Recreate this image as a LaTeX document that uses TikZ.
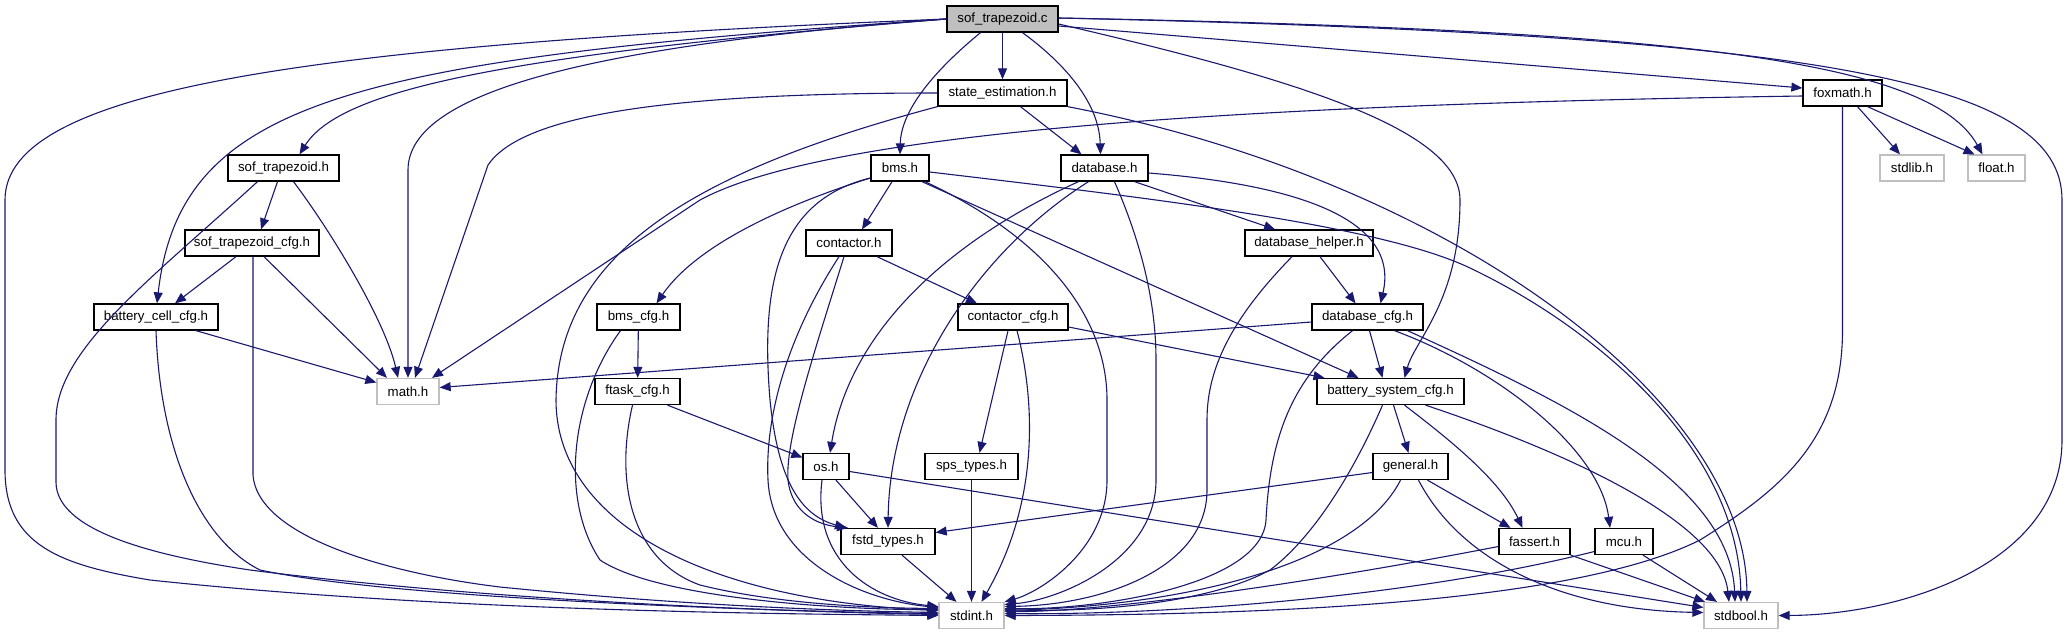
\documentclass[tikz,border=0pt]{standalone}
\usepackage{fontspec}
\setmainfont{Liberation Sans}
\usetikzlibrary{arrows.meta}
\definecolor{edgeblue}{HTML}{191970}
\definecolor{boxgray}{HTML}{BFBFBF}
\newcommand\nodefont{\fontsize{13.3}{16}\selectfont}
\tikzset{
  nd/.style={draw=black, line width=1.3pt, fill=white, inner sep=0pt, minimum height=26pt, font=\nodefont},
  sysnd/.style={nd, draw=boxgray},
  rootnd/.style={nd, fill=boxgray},
  e/.style={draw=edgeblue, line width=1.1pt, -{Triangle[length=11pt,width=9pt]}},
}
\begin{document}
\begin{tikzpicture}[x=1pt,y=-1pt]
\useasboundingbox[fill=white] (0,0) rectangle (2069,635);
% nodes
\node[rootnd, minimum width=111pt] (c) at (1002.5,19) {sof\_trapezoid.c};
\node[nd, minimum width=129pt] (se) at (1002.5,93) {state\_estimation.h};
\node[nd, minimum width=79pt] (fox) at (1842.5,93) {foxmath.h};
\node[nd, minimum width=111pt] (sth) at (283.5,168) {sof\_trapezoid.h};
\node[nd, minimum width=58pt] (bms) at (900,168) {bms.h};
\node[nd, minimum width=87pt] (db) at (1104.5,168) {database.h};
\node[sysnd, minimum width=64pt] (stdlib) at (1912,168) {stdlib.h};
\node[sysnd, minimum width=57pt] (flt) at (1996.5,168) {float.h};
\node[nd, minimum width=134pt] (stcfg) at (252,243) {sof\_trapezoid\_cfg.h};
\node[nd, minimum width=86pt] (cont) at (849,243) {contactor.h};
\node[nd, minimum width=128pt] (dbh) at (1309,243) {database\_helper.h};
\node[nd, minimum width=124pt] (bcc) at (156,317) {battery\_cell\_cfg.h};
\node[nd, minimum width=83pt] (bmscfg) at (638.5,317) {bms\_cfg.h};
\node[nd, minimum width=110pt] (ccfg) at (1013,317) {contactor\_cfg.h};
\node[nd, minimum width=111pt] (dbcfg) at (1367.5,317) {database\_cfg.h};
\node[sysnd, minimum width=62pt] (math) at (408,391.5) {math.h};
\node[nd, minimum width=85pt] (ftask) at (637.5,391.5) {ftask\_cfg.h};
\node[nd, minimum width=147pt] (bsc) at (1390.5,391.5) {battery\_system\_cfg.h};
\node[nd, minimum width=46pt] (os) at (826,466.5) {os.h};
\node[nd, minimum width=93pt] (sps) at (971.5,466.5) {sps\_types.h};
\node[nd, minimum width=75pt] (gen) at (1410.5,466.5) {general.h};
\node[nd, minimum width=94pt] (fstd) at (888,541.5) {fstd\_types.h};
\node[nd, minimum width=71pt] (fas) at (1534.5,541.5) {fassert.h};
\node[nd, minimum width=58pt] (mcu) at (1624,541.5) {mcu.h};
\node[sysnd, minimum width=65pt] (stdint) at (971.5,615.5) {stdint.h};
\node[sysnd, minimum width=74pt] (stdbool) at (1741,615.5) {stdbool.h};

% sof_trapezoid.c
\draw[e] (c.west) .. controls (300,45) and (5,90) .. (5,200) -- (5,470) .. controls (5,545) and (60,565) .. (150,580) .. controls (450,612) and (800,614) .. (stdint.west);
\draw[e] (c.west) .. controls (350,60) and (180,100) .. ([xshift=1pt]bcc.north);
\draw[e] (c.west) .. controls (500,55) and (340,90) .. ([xshift=16pt]sth.north);
\draw[e] (c.west) .. controls (600,45) and (408,90) .. (408,170) -- (math.north);
\draw[e] ([xshift=-22pt]c.south) .. controls (935,70) and (901,110) .. (bms.north);
\draw[e] (c) -- (se);
\draw[e] ([xshift=20pt]c.south) .. controls (1060,60) and (1099,100) .. ([xshift=-4pt]db.north);
\draw[e] ([yshift=-5pt]c.east) .. controls (1300,80) and (1460,130) .. (1460,200) .. controls (1460,300) and (1415,340) .. ([xshift=14pt]bsc.north);
\draw[e] ([yshift=-7pt]c.east) -- ([yshift=5pt]fox.west);
\draw[e] ([yshift=1pt]c.east) .. controls (1680,30) and (1930,60) .. ([xshift=-14pt]flt.north);
\draw[e] ([yshift=1pt]c.east) .. controls (1820,35) and (2062,80) .. (2062,200) -- (2062,440) .. controls (2062,565) and (1900,615) .. (stdbool.east);
% state_estimation.h
\draw[e] (se.west) .. controls (650,93) and (520,118) .. (488,165) -- ([xshift=7pt]math.north);
\draw[e] (se.south west) .. controls (700,170) and (558,250) .. (556,400) .. controls (556,520) and (700,600) .. ([yshift=5pt]stdint.west);
\draw[e] ([xshift=18pt]se.south) -- ([xshift=-23pt]db.north);
\draw[e] (se.south east) .. controls (1450,180) and (1745,400) .. ([xshift=6pt]stdbool.north);
% foxmath.h
\draw[e] ([yshift=-3pt]fox.west) .. controls (1200,105) and (820,135) .. (700,200) -- ([xshift=24pt]math.north);
\draw[e] ([xshift=15pt]fox.south) -- ([xshift=-12pt]stdlib.north);
\draw[e] ([xshift=25pt]fox.south) -- ([xshift=-22pt]flt.north);
\draw[e] (fox.south) -- (1842.5,330) .. controls (1842.5,440) and (1780,490) .. (1700,540) .. controls (1580,600) and (1300,615) .. (stdint.east);
% sof_trapezoid.h
\draw[e] ([xshift=-6pt]sth.south) -- ([xshift=9pt]stcfg.north);
\draw[e] ([xshift=10pt]sth.south) .. controls (330,230) and (385,320) .. ([xshift=-10pt]math.north);
\draw[e] ([xshift=-26pt]sth.south) .. controls (150,280) and (56,350) .. (56,420) -- (56,482) .. controls (56,530) and (150,555) .. (250,570) .. controls (500,602) and (800,612) .. ([yshift=1pt]stdint.west);
% sof_trapezoid_cfg.h
\draw[e] ([xshift=-16pt]stcfg.south) -- ([xshift=19pt]bcc.north);
\draw[e] ([xshift=12pt]stcfg.south) -- ([xshift=-21pt]math.north);
\draw[e] ([xshift=1pt]stcfg.south) -- (253,475) .. controls (258,540) and (400,575) .. (500,587) .. controls (700,607) and (850,611) .. ([yshift=3pt]stdint.west);
% battery_cell_cfg.h
\draw[e] ([xshift=40pt]bcc.south) -- ([yshift=9pt]math.west);
\draw[e] (bcc.south) .. controls (160,450) and (200,540) .. (260,570) .. controls (400,600) and (800,612) .. ([yshift=2pt]stdint.west);
% bms.h
\draw[e] ([xshift=-8pt]bms.south) -- ([xshift=13pt]cont.north);
\draw[e] ([yshift=-10pt]bms.west) .. controls (800,200) and (700,240) .. ([xshift=18pt]bmscfg.north);
\draw[e] ([yshift=-10pt]bms.west) .. controls (780,200) and (760,280) .. (770,400) .. controls (778,480) and (800,515) .. ([xshift=-42pt]fstd.north);
\draw[e] ([xshift=25pt]bms.south) .. controls (1050,240) and (1107,320) .. (1107,400) -- (1107,480) .. controls (1107,550) and (1040,592) .. (stdint.north east);
\draw[e] ([xshift=22pt]bms.south) -- ([xshift=-32pt]bsc.north);
\draw[e] ([yshift=-4pt]bms.east) .. controls (1150,198) and (1380,225) .. (1470,268) .. controls (1600,330) and (1738,450) .. (stdbool.north);
% database.h
\draw[e] ([xshift=-26pt]db.south) .. controls (950,240) and (850,330) .. ([xshift=4pt]os.north);
\draw[e] ([xshift=-16pt]db.south) .. controls (980,250) and (890,380) .. (fstd.north);
\draw[e] ([xshift=10pt]db.south) .. controls (1140,240) and (1156,300) .. (1156,360) -- (1156,480) .. controls (1156,560) and (1060,600) .. ([yshift=11pt]stdint.east);
\draw[e] ([xshift=30pt]db.south) -- ([xshift=-34pt]dbh.north);
\draw[e] ([yshift=-5pt]db.east) .. controls (1300,185) and (1400,220) .. ([xshift=13pt]dbcfg.north);
% contactor.h
\draw[e] ([xshift=28pt]cont.south) -- ([xshift=-36pt]ccfg.north);
\draw[e] ([xshift=-5pt]cont.south) .. controls (815,350) and (785,440) .. (788,480) .. controls (792,515) and (820,525) .. ([xshift=-40pt]fstd.north);
\draw[e] ([xshift=-10pt]cont.south) .. controls (785,340) and (765,420) .. (768,480) .. controls (772,560) and (860,600) .. ([yshift=8pt]stdint.west);
% database_helper.h
\draw[e] ([xshift=11pt]dbh.south) -- ([xshift=-12pt]dbcfg.north);
\draw[e] ([xshift=-17pt]dbh.south) .. controls (1230,320) and (1207,370) .. (1207,420) -- (1207,490) .. controls (1207,570) and (1100,605) .. ([yshift=9pt]stdint.east);
% bms_cfg.h
\draw[e] (bmscfg) -- (ftask);
\draw[e] ([xshift=-18pt]bmscfg.south) .. controls (570,400) and (560,500) .. (600,560) .. controls (660,600) and (850,610) .. ([yshift=6pt]stdint.west);
% contactor_cfg.h
\draw[e] ([xshift=-5pt]ccfg.south) -- ([xshift=8pt]sps.north);
\draw[e] ([yshift=-10pt]ccfg.east) -- ([xshift=-66pt]bsc.north);
\draw[e] ([xshift=4pt]ccfg.south) .. controls (1035,400) and (1040,500) .. ([xshift=10pt]stdint.north);
% database_cfg.h
\draw[e] ([yshift=-5pt]dbcfg.west) -- ([yshift=4pt]math.east);
\draw[e] ([xshift=2pt]dbcfg.south) -- ([xshift=-8pt]bsc.north);
\draw[e] ([xshift=-15pt]dbcfg.south) .. controls (1290,380) and (1270,440) .. (1266,520) .. controls (1262,585) and (1100,610) .. ([yshift=7pt]stdint.east);
\draw[e] ([xshift=27pt]dbcfg.south) .. controls (1500,370) and (1600,450) .. ([xshift=-14pt]mcu.north);
\draw[e] ([xshift=40pt]dbcfg.south) .. controls (1560,400) and (1730,480) .. ([xshift=-6pt]stdbool.north);
% ftask_cfg.h
\draw[e] ([xshift=30pt]ftask.south) -- ([yshift=9pt]os.west);
\draw[e] ([xshift=-5pt]ftask.south) .. controls (615,480) and (630,560) .. (700,585) .. controls (780,605) and (880,608) .. ([yshift=7pt]stdint.west);
% battery_system_cfg.h
\draw[e] ([xshift=3pt]bsc.south) -- ([xshift=-2pt]gen.north);
\draw[e] ([xshift=14pt]bsc.south) .. controls (1450,440) and (1500,480) .. ([xshift=-12pt]fas.north);
\draw[e] ([xshift=-8pt]bsc.south) .. controls (1350,480) and (1310,540) .. (1270,570) .. controls (1200,608) and (1070,612) .. ([yshift=6pt]stdint.east);
\draw[e] ([xshift=35pt]bsc.south) .. controls (1560,450) and (1720,520) .. ([xshift=-12pt]stdbool.north);
% os.h
\draw[e] ([xshift=10pt]os.south) -- ([xshift=-10pt]fstd.north);
\draw[e] ([xshift=-4pt]os.south) .. controls (812,560) and (870,600) .. ([yshift=9pt]stdint.west);
\draw[e] ([yshift=-5pt]os.east) -- ([yshift=8pt]stdbool.west);
% sps_types.h
\draw[e] (sps) -- (stdint);
% general.h
\draw[e] ([yshift=-6pt]gen.west) -- ([yshift=9pt]fstd.east);
\draw[e] ([xshift=17pt]gen.south) -- ([xshift=-24pt]fas.north);
\draw[e] ([xshift=-10pt]gen.south) .. controls (1360,560) and (1200,605) .. ([yshift=5pt]stdint.east);
\draw[e] ([xshift=8pt]gen.south) .. controls (1460,560) and (1560,610) .. ([yshift=3pt]stdbool.west);
% fstd_types.h
\draw[e] ([xshift=14pt]fstd.south) -- ([xshift=-15pt]stdint.north);
% fassert.h
\draw[e] ([yshift=-5pt]fas.west) .. controls (1300,585) and (1100,612) .. ([yshift=4pt]stdint.east);
\draw[e] (fas.south east) -- ([xshift=-36pt]stdbool.north);
% mcu.h
\draw[e] ([yshift=-10pt]mcu.west) .. controls (1400,600) and (1150,615) .. ([yshift=2pt]stdint.east);
\draw[e] ([xshift=19pt]mcu.south) -- ([xshift=-24pt]stdbool.north);
\end{tikzpicture}
\end{document}
